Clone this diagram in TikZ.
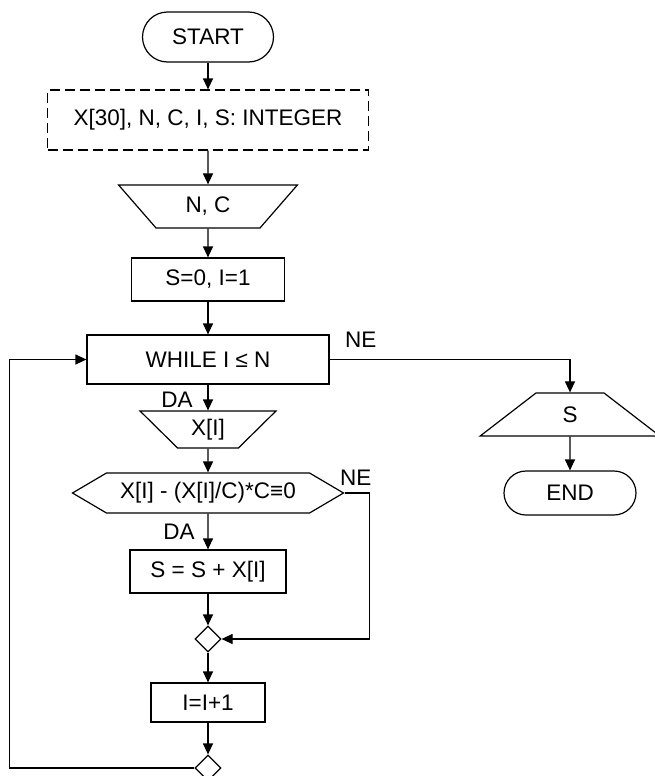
\documentclass[tikz,border=0pt]{standalone}
\usepackage{fontspec}
\setmainfont{Liberation Sans}
\usetikzlibrary{positioning,shapes.geometric,shapes.symbols,arrows.meta}

\tikzset{
  base/.style={draw, line width=0.6pt, inner sep=1pt, font=\fontsize{11.25}{13}\selectfont},
  terminal/.style={base, rectangle, rounded corners=12.5pt, minimum width=65.5pt, minimum height=25pt},
  declbox/.style={base, rectangle, dash pattern=on 5pt off 2.5pt, minimum width=160.5pt, minimum height=30pt},
  proc/.style={base, rectangle, minimum height=21.5pt},
  inbox/.style={base, trapezium, trapezium stretches=true, shape border rotate=180,
    trapezium left angle=52, trapezium right angle=52},
  outbox/.style={base, trapezium, trapezium stretches=true,
    trapezium left angle=52, trapezium right angle=52},
  cond/.style={base, signal, signal to=west and east, signal pointer angle=61,
    minimum width=135.5pt, minimum height=20pt, inner sep=0pt},
  junction/.style={base, diamond, minimum width=13pt, minimum height=13pt, inner sep=0pt},
  lbl/.style={font=\fontsize{11.25}{13}\selectfont}
}

\begin{document}
\begin{tikzpicture}[->, >={Triangle[length=5.5pt,width=5pt]}, line width=0.6pt,
    node distance=40pt, on grid, auto]
  \useasboundingbox (0,0) rectangle (327pt,-388pt);

  \node[terminal] (start) at (104pt,-18.5pt) {START};
  \node[declbox] (decl) [below=41.5pt of start] {X[30], N, C, I, S: INTEGER};
  \node[inbox, minimum width=89.5pt, minimum height=21.5pt] (nc) [below=43.25pt of decl] {N, C};
  \node[proc, minimum width=76.5pt] (init) [below=36.5pt of nc] {S=0, I=1};
  \node[proc, minimum width=121pt, minimum height=24.5pt] (while) [below=40pt of init] {WHILE I ≤ N};
  \node[inbox, trapezium left angle=47, trapezium right angle=47,
    minimum width=68pt, minimum height=18.5pt] (xi) [below=35pt of while] {X[I]};
  \node[cond] (test) [below=31.75pt of xi] {X[I] - (X[I]/C)*C≡0};
  \node[proc, minimum width=78pt] (sum) [below=39.25pt of test] {S = S + X[I]};
  \node[junction] (j1) [below=33.75pt of sum] {};
  \node[proc, minimum width=57pt, minimum height=19.5pt] (inc) [below=31.75pt of j1] {I=I+1};
  \node[junction] (j2) [below=32.75pt of inc] {};
  \node[outbox, minimum width=90pt, minimum height=21.5pt] (out) [below right=27.5pt and 181pt of while] {S};
  \node[terminal, rounded corners=11pt, minimum width=66pt, minimum height=22pt] (stop) [below=39.25pt of out] {END};

  \path (start) edge (decl);
  \path (decl) edge (nc);
  \path (nc) edge (init);
  \path (init) edge (while);
  \path (while) edge node[lbl, left=4pt, pos=0.59] {DA} (xi);
  \path (xi) edge (test);
  \path (test) edge node[lbl, left=3pt, pos=0.5] {DA} (sum);
  \path (sum) edge (j1);
  \path (j1) edge (inc);
  \path (inc) edge (j2);
  \path (out) edge (stop);

  % NE branches
  \draw (while.east) -| node[lbl, above=2.5pt, pos=0.065] {NE} (out.north);
  \draw (test.east) -- node[lbl, above, pos=0.44] {NE} ++(12.5pt,0) |- (j1.east);

  % loop back
  \draw (j2.west) -- ++(-92.5pt,0) |- (while.west);
\end{tikzpicture}
\end{document}
